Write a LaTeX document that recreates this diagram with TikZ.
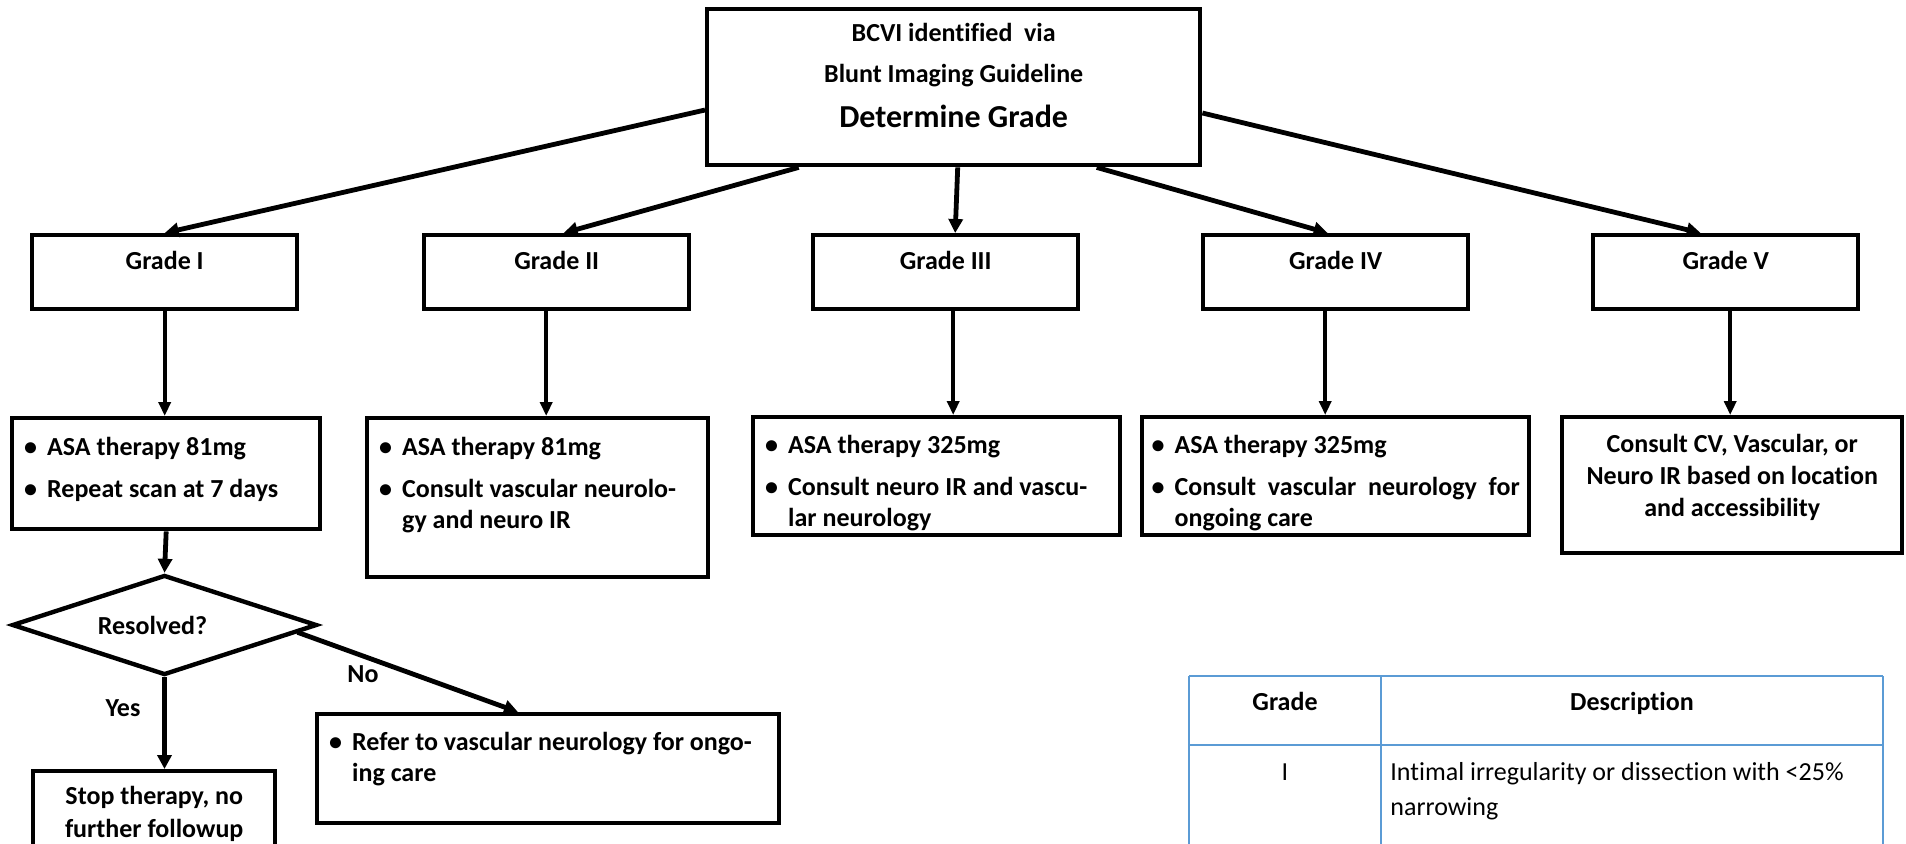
\documentclass[tikz,border=0pt]{standalone}
\usepackage{fontspec}
\setmainfont{Carlito}[Ligatures={NoCommon}]
\usetikzlibrary{arrows.meta,shapes.geometric,calc}
\definecolor{tblue}{HTML}{5B9BD5}
\newcommand\bxt[3]{\parbox[c][#1][t]{#2}{\setlength\parskip{5.5pt}#3}}
\newcommand\bitem[1]{\par\hangindent=11.5pt\hangafter=1\noindent\makebox[11.5pt][l]{\textbullet}#1\par}
\tikzset{
  box/.style={draw, line width=2.2pt, inner sep=0pt, anchor=north west, font=\fontsize{13pt}{15.5pt}\selectfont\bfseries},
  arr/.style={line width=2.4pt, -{Triangle[length=7pt,width=7pt]}},
  varr/.style={line width=1.8pt, -{Triangle[length=7pt,width=6pt]}},
  lbl/.style={font=\fontsize{13pt}{15.5pt}\selectfont\bfseries, inner sep=0pt},
  tline/.style={draw=tblue, line width=1pt},
  tcell/.style={font=\fontsize{13pt}{17.5pt}\selectfont, inner sep=0pt},
}
\begin{document}
\begin{tikzpicture}[x=0.5pt,y=-0.5pt]
\useasboundingbox (0,0) rectangle (1906,843);
\clip (0,0) rectangle (1906,843);

% top box
\node[box, minimum width=246.5pt, minimum height=78pt] (top) at (705,7)
  {\bxt{78pt}{240pt}{\fontsize{13pt}{20.5pt}\selectfont\centering\rule{0pt}{16pt}BCVI identified\ \ via\\Blunt Imaging Guideline\\[2pt]{\fontsize{16pt}{20.5pt}\selectfont Determine Grade}\par}};

% grade boxes
\node[box, minimum width=132.5pt, minimum height=37pt] (g1) at (30,233)
  {\bxt{37pt}{130pt}{\centering\rule{0pt}{17pt}Grade I\par}};
\node[box, minimum width=132.5pt, minimum height=37pt] (g2) at (422,233)
  {\bxt{37pt}{130pt}{\centering\rule{0pt}{17pt}Grade II\par}};
\node[box, minimum width=132.5pt, minimum height=37pt] (g3) at (811,233)
  {\bxt{37pt}{130pt}{\centering\rule{0pt}{17pt}Grade III\par}};
\node[box, minimum width=132.5pt, minimum height=37pt] (g4) at (1201,233)
  {\bxt{37pt}{130pt}{\centering\rule{0pt}{17pt}Grade IV\par}};
\node[box, minimum width=132.5pt, minimum height=37pt] (g5) at (1591,233)
  {\bxt{37pt}{130pt}{\centering\rule{0pt}{17pt}Grade V\par}};

% action boxes
\node[box, minimum width=154pt, minimum height=55.5pt] (b1) at (10,416)
  {\bxt{55.5pt}{142pt}{\bitem{\rule{0pt}{18.5pt}ASA therapy 81mg}\bitem{Repeat scan at 7 days}}};
\node[box, minimum width=170.5pt, minimum height=79.5pt] (b2) at (365,416)
  {\bxt{79.5pt}{158.5pt}{\bitem{\rule{0pt}{18.5pt}ASA therapy 81mg}\bitem{Consult vascular neurolo-\\gy and neuro IR}}};
\node[box, minimum width=183.5pt, minimum height=59pt] (b3) at (751,415)
  {\bxt{59pt}{171.5pt}{\bitem{\rule{0pt}{18pt}ASA therapy 325mg}\bitem{Consult neuro IR and vascu-\\lar neurology}}};
\node[box, minimum width=193.5pt, minimum height=59pt] (b4) at (1140,415)
  {\bxt{59pt}{184pt}{\bitem{\rule{0pt}{18pt}ASA therapy 325mg}\bitem{Consult vascular neurology for\linebreak ongoing care}}};
\node[box, minimum width=170pt, minimum height=68pt] (b5) at (1560,415)
  {\bxt{68pt}{164pt}{\fontsize{13pt}{16pt}\selectfont\centering\rule{0pt}{17.5pt}Consult CV, Vascular, or\\Neuro IR based on location\\and accessibility\par}};

% decision
\node[draw, diamond, aspect=3, line width=2.2pt, minimum width=152.5pt, minimum height=50pt, lbl] (dia) at (164.5,625) {Resolved?\hspace*{12pt}};
\node[box, minimum width=231pt, minimum height=54.5pt] (refer) at (315,712)
  {\bxt{54.5pt}{219pt}{\bitem{\rule{0pt}{18pt}Refer to vascular neurology for ongo-\\ing care}}};
\node[box, minimum width=121pt, minimum height=60pt] (stop) at (31,769)
  {\bxt{60pt}{116pt}{\fontsize{13pt}{16.5pt}\selectfont\centering\rule{0pt}{16.5pt}Stop therapy, no\\further followup\par}};
\node[lbl] (yes) at (123,708) {Yes};
\node[lbl] (no) at (363,674) {No};

% arrows from top
\draw[arr] ($(top.north west)+(0,103)$) -- (g1.north);
\draw[arr] ($(top.south)+(-155,0)$) -- ($(g2.north)+(7,0)$);
\draw[arr] ($(top.south)+(4,0)$) -- ($(g3.north)+(9.5,0)$);
\draw[arr] ($(top.south)+(143,0)$) -- ($(g4.north)+(-8,0)$);
\draw[arr] ($(top.north east)+(0,106)$) -- ($(g5.north)+(-25,0)$);

% vertical arrows
\coordinate (s1) at (g1.south);
\coordinate (s2) at ($(g2.south)+(-10.5,0)$);
\coordinate (s3) at ($(g3.south)+(7.5,0)$);
\coordinate (s4) at ($(g4.south)+(-10.5,0)$);
\coordinate (s5) at ($(g5.south)+(4.5,0)$);
\draw[varr] (s1) -- (s1 |- b1.north);
\draw[varr] (s2) -- (s2 |- b2.north);
\draw[varr] (s3) -- (s3 |- b3.north);
\draw[varr] (s4) -- (s4 |- b4.north);
\draw[varr] (s5) -- (s5 |- b5.north);

\draw[arr] (b1.south) -- (dia.north);
\draw[arr] (dia.south) -- (dia.south |- stop.north);
\draw[arr] ($(dia.east)!0.14!(dia.south)$) -- ($(refer.north west)+(203,0)$);

% table
\draw[tline] (1189,676) -- (1883,676);
\draw[tline] (1189,745) -- (1883,745);
\draw[tline] (1189,676) -- (1189,860);
\draw[tline] (1381,676) -- (1381,860);
\draw[tline] (1883,676) -- (1883,860);
\node[lbl, anchor=base] (th1) at (1285,710) {Grade};
\node[lbl, anchor=base] (th2) at (1632,710) {Description};
\node[tcell, anchor=base] (tc1) at (1285,780) {I};
\node[tcell, anchor=north west] (tc2) at (1390,745)
  {\parbox[t]{245pt}{\rule{0pt}{17.5pt}Intimal irregularity or dissection with <25\%\\narrowing}};
\end{tikzpicture}
\end{document}
